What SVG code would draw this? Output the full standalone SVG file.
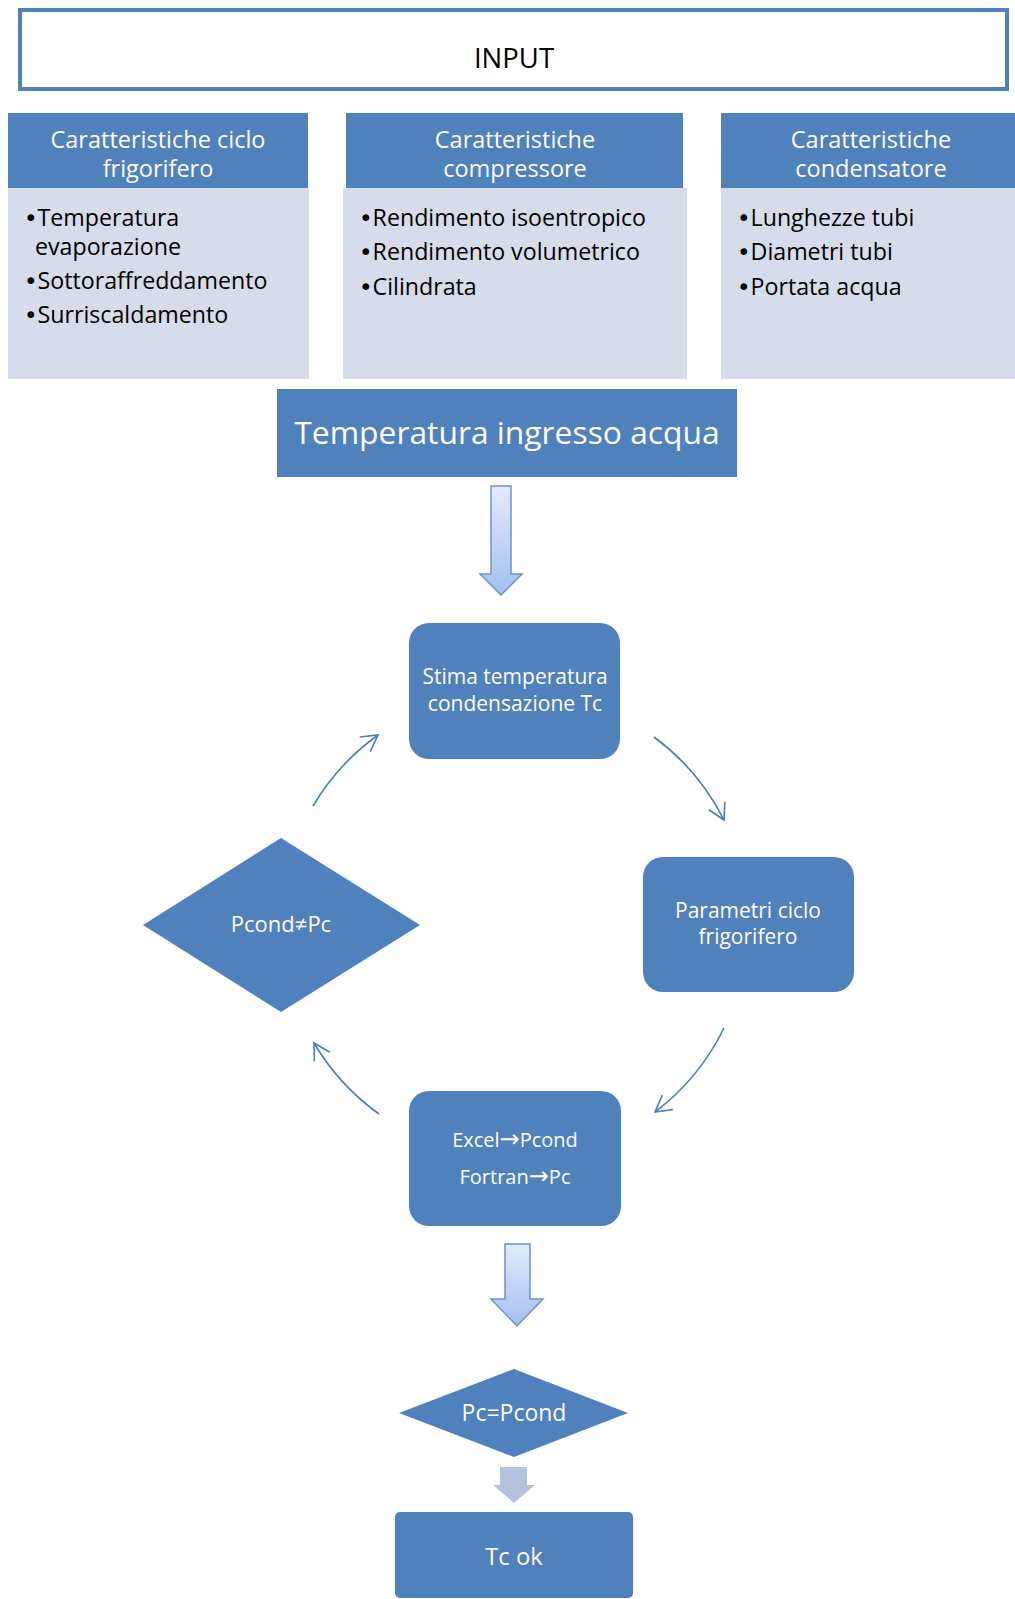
<svg xmlns="http://www.w3.org/2000/svg" width="1015" height="1599" viewBox="0 0 1015 1599">
<style>
  .hdr { fill: #4f81bd; }
  .body { fill: #d6dce9; }
  .node { fill: #4f81bd; }
  .wt { fill: #ffffff; font-family: "Open Sans", "Liberation Sans", sans-serif; text-anchor: middle; }
  .bt { fill: #000000; font-family: "Open Sans", "Liberation Sans", sans-serif; font-size: 23.2px; }
  .bul { font-family: "DejaVu Sans", sans-serif; font-size: 23px; }
  .arr { font-family: "DejaVu Sans", sans-serif; font-size: 24px; }
  .conn { fill: none; stroke: #4a7ebb; stroke-width: 1.6; }
  .bigarrow { fill: url(#ag); stroke: #6f93c9; stroke-width: 1.5; }
</style>
<defs>
  <linearGradient id="ag" x1="0" y1="0" x2="0" y2="1">
    <stop offset="0" stop-color="#e3ebfa"/>
    <stop offset="1" stop-color="#a3bff0"/>
  </linearGradient>
  <marker id="open" markerUnits="userSpaceOnUse" markerWidth="30" markerHeight="30" refX="0" refY="0" viewBox="-20 -15 25 30" orient="auto">
    <path d="M-16,-9 L0,0 L-16,9" fill="none" stroke="#4a7ebb" stroke-width="1.6"/>
  </marker>
</defs>
<rect width="1015" height="1599" fill="#ffffff"/>

<g id="input">
  <rect x="20" y="10" width="987" height="79" fill="#ffffff" stroke="#4f81bd" stroke-width="4"/>
  <text x="514" y="68" font-family="'Open Sans', 'Liberation Sans', sans-serif" font-size="27.5" text-anchor="middle" fill="#000">INPUT</text>
</g>

<g id="col1">
  <rect class="body" x="8" y="188" width="301" height="191"/>
  <rect class="hdr" x="8" y="113" width="300" height="75"/>
  <text class="wt" x="158" y="148" font-size="23.5">Caratteristiche ciclo</text>
  <text class="wt" x="158" y="177" font-size="23.5">frigorifero</text>
  <text class="bt" x="24" y="226"><tspan class="bul">•</tspan>Temperatura</text>
  <text class="bt" x="35" y="255">evaporazione</text>
  <text class="bt" x="24" y="289"><tspan class="bul">•</tspan>Sottoraffreddamento</text>
  <text class="bt" x="24" y="323"><tspan class="bul">•</tspan>Surriscaldamento</text>
</g>

<g id="col2">
  <rect class="body" x="343" y="188" width="344" height="191"/>
  <rect class="hdr" x="346" y="113" width="337" height="75"/>
  <text class="wt" x="515" y="148" font-size="23.5">Caratteristiche</text>
  <text class="wt" x="515" y="177" font-size="23.5">compressore</text>
  <text class="bt" x="359" y="226"><tspan class="bul">•</tspan>Rendimento isoentropico</text>
  <text class="bt" x="359" y="260"><tspan class="bul">•</tspan>Rendimento volumetrico</text>
  <text class="bt" x="359" y="295"><tspan class="bul">•</tspan>Cilindrata</text>
</g>

<g id="col3">
  <rect class="body" x="721" y="188" width="294" height="191"/>
  <rect class="hdr" x="721" y="113" width="294" height="75"/>
  <text class="wt" x="871" y="148" font-size="23.5">Caratteristiche</text>
  <text class="wt" x="871" y="177" font-size="23.5">condensatore</text>
  <text class="bt" x="737" y="226"><tspan class="bul">•</tspan>Lunghezze tubi</text>
  <text class="bt" x="737" y="260"><tspan class="bul">•</tspan>Diametri tubi</text>
  <text class="bt" x="737" y="295"><tspan class="bul">•</tspan>Portata acqua</text>
</g>

<g id="temp-ingresso">
  <rect class="node" x="277" y="389" width="460" height="88"/>
  <text class="wt" x="507" y="444" font-size="31.8">Temperatura ingresso acqua</text>
</g>

<g id="stima">
  <rect class="node" x="409" y="623" width="211" height="136" rx="20"/>
  <text class="wt" x="515" y="684" font-size="21">Stima temperatura</text>
  <text class="wt" x="515" y="711" font-size="21">condensazione Tc</text>
</g>

<g id="parametri">
  <rect class="node" x="643" y="857" width="211" height="135" rx="20"/>
  <text class="wt" x="748" y="918" font-size="21">Parametri ciclo</text>
  <text class="wt" x="748" y="944" font-size="21">frigorifero</text>
</g>

<g id="pcond-ne-pc">
  <polygon class="node" points="143,925 281,838 420,925 281,1012"/>
  <text class="wt" x="281" y="932" font-size="22">Pcond≠Pc</text>
</g>

<g id="excel">
  <rect class="node" x="409" y="1091" width="212" height="135" rx="20"/>
  <text class="wt" x="515" y="1147" font-size="20">Excel<tspan class="arr">→</tspan>Pcond</text>
  <text class="wt" x="515" y="1184" font-size="20">Fortran<tspan class="arr">→</tspan>Pc</text>
</g>

<g id="pc-eq-pcond">
  <polygon class="node" points="399,1413 514,1369 628,1413 514,1457"/>
  <text class="wt" x="514" y="1421" font-size="23">Pc=Pcond</text>
</g>

<g id="tc-ok">
  <rect class="node" x="395" y="1512" width="238" height="86" rx="5"/>
  <text class="wt" x="514" y="1565" font-size="23.8">Tc ok</text>
</g>

<g id="connectors">
  <path class="bigarrow" d="M491,486 L511,486 L511,574 L522,574 L501,595 L480,574 L491,574 Z"/>
  <path class="bigarrow" d="M505,1244 L530,1244 L530,1299 L543,1299 L517,1326 L491,1299 L505,1299 Z"/>
  <path d="M500,1467 L527,1467 L527,1485 L535,1485 L514,1503 L493,1485 L500,1485 Z" fill="#b3c3de"/>
  <path class="conn" d="M313,806 A234,234 0 0 1 378,735" marker-end="url(#open)"/>
  <path class="conn" d="M654,737 A234,234 0 0 1 724,820" marker-end="url(#open)"/>
  <path class="conn" d="M724,1028 A234,234 0 0 1 655,1112" marker-end="url(#open)"/>
  <path class="conn" d="M379,1114 A234,234 0 0 1 314,1043" marker-end="url(#open)"/>
</g>
</svg>
